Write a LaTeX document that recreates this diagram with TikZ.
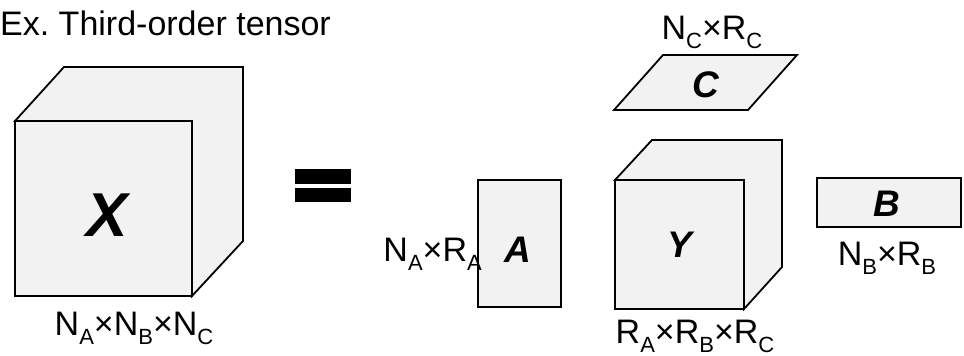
\documentclass[tikz,border=0pt]{standalone}
\usepackage{fontspec}
\setmainfont{Liberation Sans}
\frenchspacing
\newcommand\lblfont{\fontsize{34}{40}\selectfont}
\newcommand\subs[1]{\raisebox{-9pt}{\fontsize{22}{22}\selectfont #1}}
\begin{document}
\begin{tikzpicture}[x=1pt,y=-1pt,
  face/.style={draw=black,fill=black!5,line width=1.8pt,line join=miter},
  letter/.style={font=\fontsize{37}{44}\selectfont\bfseries\itshape,inner sep=0pt},
  dims/.style={font=\lblfont,inner sep=0pt,anchor=base}]
\useasboundingbox (0,0) rectangle (964,356);

% title
\node[inner sep=0pt,anchor=base west,font=\lblfont] (title) at (0,35) {Ex. Third-order tensor};

% cube X
\coordinate (xa) at (15,121);
\coordinate (xb) at (192,296);
\draw[face] (15,121) -- (64,67) -- (243,67) -- (243,241) -- (192,296) -- (192,121) -- cycle;
\draw[face] (xa) rectangle (xb);
\node[letter,font=\fontsize{62}{72}\selectfont\bfseries\itshape] (X) at (107,215) {X};
\node[dims] (xdim) at (134,335) {N\subs{A}×N\subs{B}×N\subs{C}};

% equals sign
\fill (295,169) rectangle (351,184);
\fill (295,188) rectangle (351,202);

% factor A
\draw[face] (478,180) rectangle (561,307);
\node[letter] (A) at (518,250) {A};
\node[dims,anchor=base east] (adim) at (482,261) {N\subs{A}×R\subs{A}};

% factor C
\draw[face] (614,110) -- (748,110) -- (797,55) -- (663,55) -- cycle;
\node[letter] (C) at (706,85) {C};
\node[dims] (cdim) at (712,39) {N\subs{C}×R\subs{C}};

% core Y
\draw[face] (615,180) -- (652,140) -- (782,140) -- (782,267) -- (744,309) -- (744,180) -- cycle;
\draw[face] (615,180) rectangle (744,309);
\node[letter] (Y) at (680,245) {Y};
\node[dims] (ydim) at (695,343) {R\subs{A}×R\subs{B}×R\subs{C}};

% factor B
\draw[face] (817,178) rectangle (961,227);
\node[letter] (B) at (887,204) {B};
\node[dims] (bdim) at (887,265) {N\subs{B}×R\subs{B}};
\end{tikzpicture}
\end{document}
